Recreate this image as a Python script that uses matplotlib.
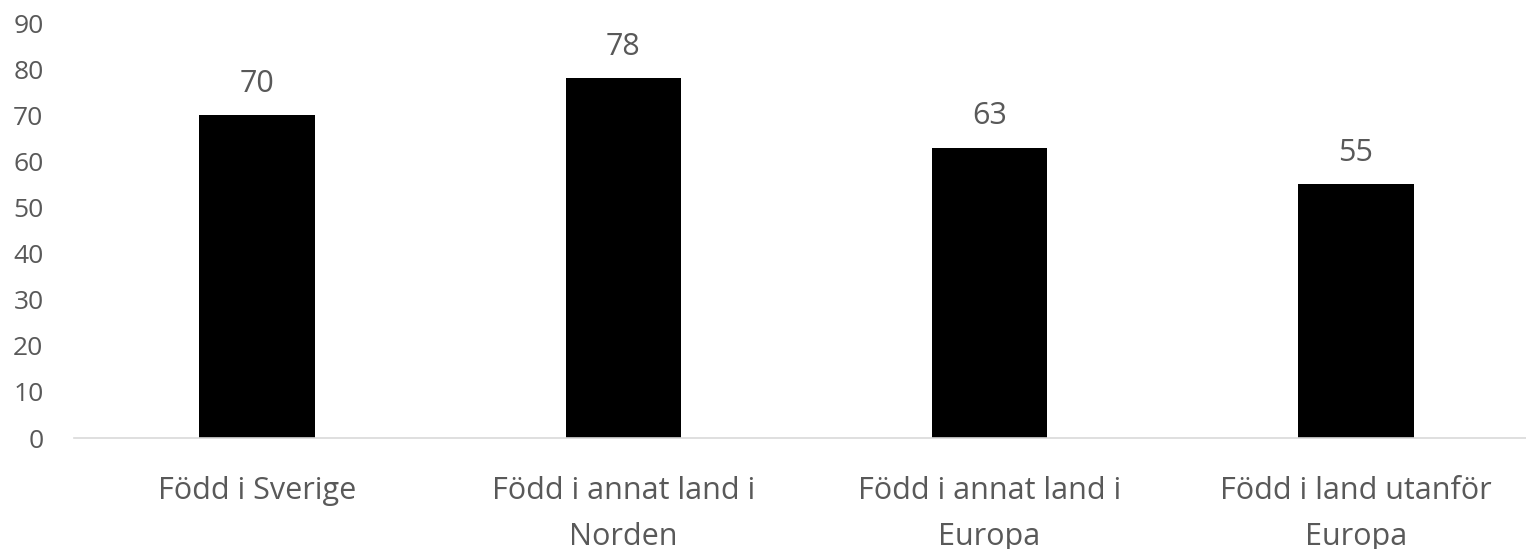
import matplotlib.pyplot as plt

# Data
kategorier = ['Född i Sverige', 'Född i annat land i\nNorden', 'Född i annat land i\nEuropa', 'Född i land utanför\nEuropa']
andel = [70, 78, 63, 55]
y_ticks = [0, 10, 20, 30, 40, 50, 60, 70, 80, 90]

plt.rcParams['font.family'] = ['Open Sans', 'DejaVu Sans']
textfarg = '#595959'

fig = plt.figure(figsize=(15.26, 5.49), dpi=100)
ax = fig.add_axes([0.0485, 0.202, 0.96, 0.756])

x = range(len(kategorier))
staplar = ax.bar(x, andel, width=0.315, color='black')

for s, v in zip(staplar, andel):
    ax.text(s.get_x() + s.get_width() / 2, v + 3.6, str(v), ha='center', va='bottom',
            fontsize=22, color=textfarg)

ax.set_xlim(-0.5, 3.5)
ax.set_ylim(0, 90)
ax.set_yticks(y_ticks)
ax.set_xticks(list(x))
ax.set_xticklabels(kategorier, fontsize=22, color=textfarg, linespacing=1.72)
ax.tick_params(axis='y', length=0, pad=22, labelsize=19, labelcolor=textfarg)
ax.tick_params(axis='x', length=0, pad=27)

for side in ['top', 'right', 'left']:
    ax.spines[side].set_visible(False)
ax.spines['bottom'].set_color('#d9d9d9')
ax.spines['bottom'].set_linewidth(1.2)

fig.savefig('out.png', dpi=100)
